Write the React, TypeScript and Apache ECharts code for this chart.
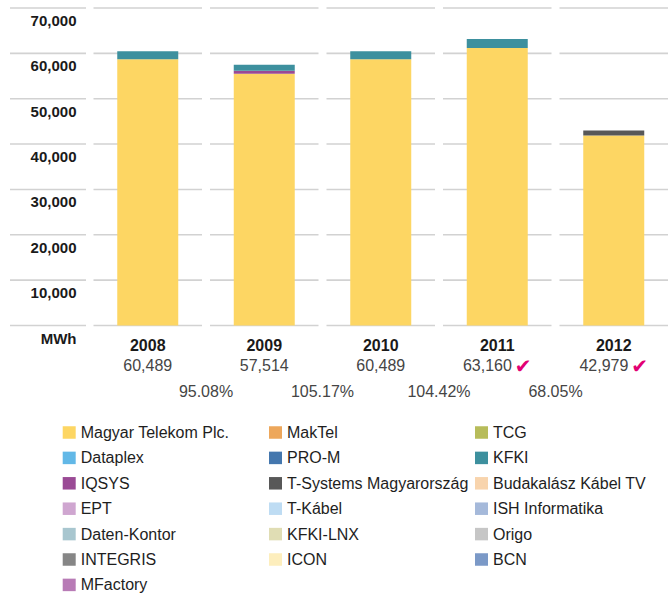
import React, { useEffect, useRef } from "react";
import * as echarts from "echarts";

const years = ["2008", "2009", "2010", "2011", "2012"];
const totalLabels = ["60,489", "57,514", "60,489", "63,160", "42,979"];
const verified = [false, false, false, true, true];
const growth = ["95.08%", "105.17%", "104.42%", "68.05%"];

const magyarTelekom = [58725, 55530, 58725, 61176, 41877];
const kfki = [1764, 1323, 1764, 1984, 0];
const iqsys = [0, 661, 0, 0, 0];
const tSystems = [0, 0, 0, 0, 1102];
const zeros = [0, 0, 0, 0, 0];

const yMin = 0;
const yMax = 70000;
const yStep = 10000;

const legendCol1 = ["Magyar Telekom Plc.", "Dataplex", "IQSYS", "EPT", "Daten-Kontor", "INTEGRIS", "MFactory"];
const legendCol2 = ["MakTel", "PRO-M", "T-Systems Magyarország", "T-Kábel", "KFKI-LNX", "ICON"];
const legendCol3 = ["TCG", "KFKI", "Budakalász Kábel TV", "ISH Informatika", "Origo", "BCN"];

const seriesValues: Record<string, number[]> = {
  "Magyar Telekom Plc.": magyarTelekom,
  IQSYS: iqsys,
  "T-Systems Magyarország": tSystems,
  KFKI: kfki,
};

const colors: Record<string, string> = {
  "Magyar Telekom Plc.": "#FDD663",
  MakTel: "#EDA75B",
  TCG: "#B7BC5A",
  Dataplex: "#62B8E7",
  "PRO-M": "#4477AE",
  KFKI: "#3D909E",
  IQSYS: "#9A4A95",
  "T-Systems Magyarország": "#585858",
  "Budakalász Kábel TV": "#F8D4AD",
  EPT: "#CFA6D0",
  "T-Kábel": "#BEDCF3",
  "ISH Informatika": "#A5B9DA",
  "Daten-Kontor": "#A8C6CF",
  "KFKI-LNX": "#E0DDB4",
  Origo: "#C6C6C6",
  INTEGRIS: "#868686",
  ICON: "#FDEEBD",
  BCN: "#7B99C7",
  MFactory: "#B87BB6",
};

const FONT = "'Liberation Sans', Arial, Helvetica, sans-serif";

export default function App() {
  const ref = useRef<HTMLDivElement>(null);

  useEffect(() => {
    if (!ref.current) return;
    const chart = echarts.init(ref.current, null, { renderer: "svg" });

    const stackOrder = [...legendCol1, ...legendCol2, ...legendCol3];

    const barSeries = stackOrder.map((name) => ({
      type: "bar",
      name,
      stack: "total",
      barWidth: 61,
      z: 3,
      itemStyle: { color: colors[name] },
      data: seriesValues[name] || zeros,
    }));

    const renderFrame = (params: any, api: any) => {
      const i = api.value(0);
      const band = api.size([1, 0])[0];
      const cx = api.coord([i, 0])[0];
      const half = band / 2 - 4;
      const children: any[] = [];
      const lineStyle = { stroke: "#d2d2d2", lineWidth: 1.6 };
      for (let v = yMin; v <= yMax; v += yStep) {
        const y = api.coord([i, v])[1];
        children.push({
          type: "line",
          shape: { x1: cx - half, y1: y, x2: cx + half, y2: y },
          style: lineStyle,
        });
        if (i === 0) {
          const left = cx - band / 2;
          children.push({
            type: "line",
            shape: { x1: left - 79.5, y1: y, x2: left - 3.5, y2: y },
            style: lineStyle,
          });
        }
      }
      if (i > 0) {
        const bx = cx - band / 2;
        const y0 = api.coord([i, 0])[1];
        children.push({
          type: "text",
          x: bx,
          y: y0 + 65.5,
          style: {
            text: growth[i - 1],
            fill: "#454545",
            fontSize: 16,
            fontFamily: FONT,
            align: "center",
            verticalAlign: "middle",
            textAlign: "center",
            textVerticalAlign: "middle",
          },
        });
      }
      return { type: "group", children };
    };

    const legendBase = {
      orient: "vertical",
      selectedMode: false,
      icon: "rect",
      itemWidth: 13,
      itemHeight: 12.5,
      itemGap: 9.4,
      top: 424.5,
      padding: 0,
      textStyle: { fontSize: 16, fontFamily: FONT, color: "#1e1e1e", lineHeight: 16 },
    };

    chart.setOption({
      animation: false,
      textStyle: { fontFamily: FONT },
      grid: { left: 89.5, top: 8, width: 590, height: 317.5 },
      legend: [
        { ...legendBase, left: 62.7, data: legendCol1 },
        { ...legendBase, left: 269, data: legendCol2 },
        { ...legendBase, left: 475, data: legendCol3 },
      ],
      xAxis: {
        type: "category",
        data: years,
        axisLine: { show: false },
        axisTick: { show: false },
        axisLabel: {
          margin: 10,
          interval: 0,
          formatter: (v: string, idx: number) =>
            `{y|${v}}\n{n|${totalLabels[idx]}}` + (verified[idx] ? "{c|✔}" : ""),
          rich: {
            y: { fontSize: 16, fontWeight: "bold", color: "#1a1a1a", lineHeight: 20, fontFamily: FONT },
            n: { fontSize: 16, color: "#454545", lineHeight: 20, fontFamily: FONT },
            c: {
              fontSize: 20,
              color: "#E20074",
              lineHeight: 20,
              fontFamily: "'DejaVu Sans', sans-serif",
              padding: [0, 0, 0, 3],
            },
          },
        },
      },
      yAxis: {
        type: "value",
        min: yMin,
        max: yMax,
        interval: yStep,
        splitLine: { show: false },
        axisLine: { show: false },
        axisTick: { show: false },
        axisLabel: {
          margin: 13,
          verticalAlign: "top",
          padding: [5, 0, 0, 0],
          fontSize: 15,
          fontWeight: "bold",
          color: "#1a1a1a",
          fontFamily: FONT,
          formatter: (v: number) => (v === 0 ? "MWh" : v.toLocaleString("en-US")),
        },
      },
      series: [
        {
          type: "custom",
          name: "frame",
          z: 1,
          clip: false,
          silent: true,
          renderItem: renderFrame,
          data: years.map((_, i) => [i, 0]),
          encode: { x: 0, y: 1 },
        },
        ...barSeries,
      ],
    });

    return () => chart.dispose();
  }, []);

  return (
    <div
      ref={ref}
      style={{ position: "fixed", left: 0, top: 0, width: 672, height: 594, background: "#fff" }}
    />
  );
}
